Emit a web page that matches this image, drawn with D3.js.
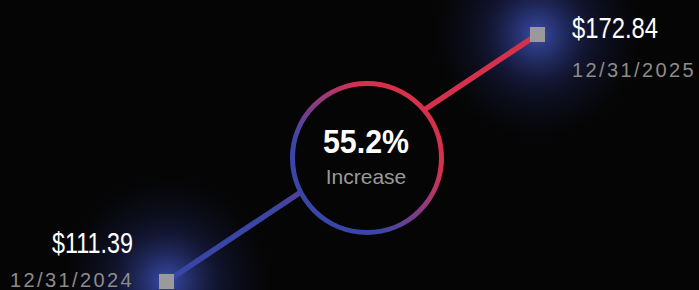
<html>
<meta charset="utf-8" />
<head>
<title>Price change</title>
<style>
body { margin: 0; background: #050505; }
svg { display: block; }
.price { font-family: "Liberation Sans", sans-serif; fill: #ffffff; font-size: 29px; }
.date { font-family: "Liberation Sans", sans-serif; fill: #8c8c8c; font-size: 20px; letter-spacing: 2.4px; }
.pct { font-family: "Liberation Sans", sans-serif; font-weight: bold; fill: #ffffff; font-size: 33px; text-anchor: middle; }
.sub { font-family: "Liberation Sans", sans-serif; fill: #9a9a9a; font-size: 21px; text-anchor: middle; }
</style>
<script src="https://d3js.org/d3.v7.min.js" charset="utf-8"></script>
</head>
<body>
<svg class="chart"></svg>
<script>
var chartWidth = 699;
var chartHeight = 290;

// data
var dates = ["12/31/2024", "12/31/2025"];
var prices = [111.39, 172.84];
var changeLabel = "Increase";

var parse = d3.timeParse("%m/%d/%Y");
var data = dates.map(function(d, i) { return { label: d, date: parse(d), price: prices[i] }; });

var svg = d3.select(".chart")
  .attr("width", chartWidth)
  .attr("height", chartHeight);

svg.append("rect").attr("width", chartWidth).attr("height", chartHeight).attr("fill", "#050505");

var x = d3.scaleTime()
  .domain(d3.extent(data, function(d) { return d.date; }))
  .range([166.5, 537.5]);

var y = d3.scaleLinear()
  .domain(d3.extent(data, function(d) { return d.price; }))
  .range([281.5, 34.5]);

var defs = svg.append("defs");

// glow behind each point
var glow = defs.append("radialGradient").attr("id", "glow");
glow.append("stop").attr("offset", "0%").attr("stop-color", "#3c4eb2").attr("stop-opacity", 0.95);
glow.append("stop").attr("offset", "20%").attr("stop-color", "#34449c").attr("stop-opacity", 0.7);
glow.append("stop").attr("offset", "50%").attr("stop-color", "#222a68").attr("stop-opacity", 0.4);
glow.append("stop").attr("offset", "100%").attr("stop-color", "#141838").attr("stop-opacity", 0);

// line gradient, blue -> red
var p0 = data[0], p1 = data[1];
var lineGrad = defs.append("linearGradient").attr("id", "lineGrad")
  .attr("gradientUnits", "userSpaceOnUse")
  .attr("x1", x(p0.date)).attr("y1", y(p0.price))
  .attr("x2", x(p1.date)).attr("y2", y(p1.price));
lineGrad.append("stop").attr("offset", "0%").attr("stop-color", "#3846a6");
lineGrad.append("stop").attr("offset", "28%").attr("stop-color", "#3a46a6");
lineGrad.append("stop").attr("offset", "38%").attr("stop-color", "#5a3f98");
lineGrad.append("stop").attr("offset", "62%").attr("stop-color", "#d5314c");
lineGrad.append("stop").attr("offset", "100%").attr("stop-color", "#d5314c");

// ring gradient, bottom-left blue -> top-right red
var ringGrad = defs.append("linearGradient").attr("id", "ringGrad")
  .attr("x1", "0%").attr("y1", "100%").attr("x2", "100%").attr("y2", "0%");
ringGrad.append("stop").attr("offset", "0%").attr("stop-color", "#3846a8");
ringGrad.append("stop").attr("offset", "30%").attr("stop-color", "#3a46a8");
ringGrad.append("stop").attr("offset", "55%").attr("stop-color", "#9a3a7a");
ringGrad.append("stop").attr("offset", "72%").attr("stop-color", "#d5314c");
ringGrad.append("stop").attr("offset", "100%").attr("stop-color", "#d8304a");

svg.selectAll("circle.glow")
  .data(data)
  .enter().append("circle")
  .attr("class", "glow")
  .attr("cx", function(d) { return x(d.date); })
  .attr("cy", function(d) { return y(d.price); })
  .attr("r", 105)
  .attr("fill", "url(#glow)");

svg.append("line")
  .attr("x1", x(p0.date)).attr("y1", y(p0.price))
  .attr("x2", x(p1.date)).attr("y2", y(p1.price))
  .attr("stroke", "url(#lineGrad)")
  .attr("stroke-width", 5.5);

// center badge
var cx = 367, cy = 158;
svg.append("circle")
  .attr("cx", cx).attr("cy", cy).attr("r", 74.5)
  .attr("fill", "#050505")
  .attr("stroke", "url(#ringGrad)")
  .attr("stroke-width", 5);

var change = (p1.price - p0.price) / p0.price;
svg.append("text").attr("class", "pct")
  .attr("x", cx - 1).attr("y", 153)
  .attr("textLength", 86).attr("lengthAdjust", "spacingAndGlyphs")
  .text(d3.format(".1%")(change));
svg.append("text").attr("class", "sub")
  .attr("x", cx - 1).attr("y", 184)
  .text(changeLabel);

// points
svg.selectAll("rect.pt")
  .data(data)
  .enter().append("rect")
  .attr("class", "pt")
  .attr("x", function(d) { return x(d.date) - 7.5; })
  .attr("y", function(d) { return y(d.price) - 7.5; })
  .attr("width", 15).attr("height", 15)
  .attr("fill", "#9a9a9a");

// labels
var fmt = d3.format("$.2f");
svg.append("text").attr("class", "price")
  .attr("x", 52).attr("y", 253)
  .attr("textLength", 81).attr("lengthAdjust", "spacingAndGlyphs")
  .text(fmt(p0.price));
svg.append("text").attr("class", "date")
  .attr("x", 134).attr("y", 287).attr("text-anchor", "end")
  .text(p0.label);
svg.append("text").attr("class", "price")
  .attr("x", 572).attr("y", 38)
  .attr("textLength", 86).attr("lengthAdjust", "spacingAndGlyphs")
  .text(fmt(p1.price));
svg.append("text").attr("class", "date")
  .attr("x", 572).attr("y", 77)
  .text(p1.label);
</script>
</body>
</html>
